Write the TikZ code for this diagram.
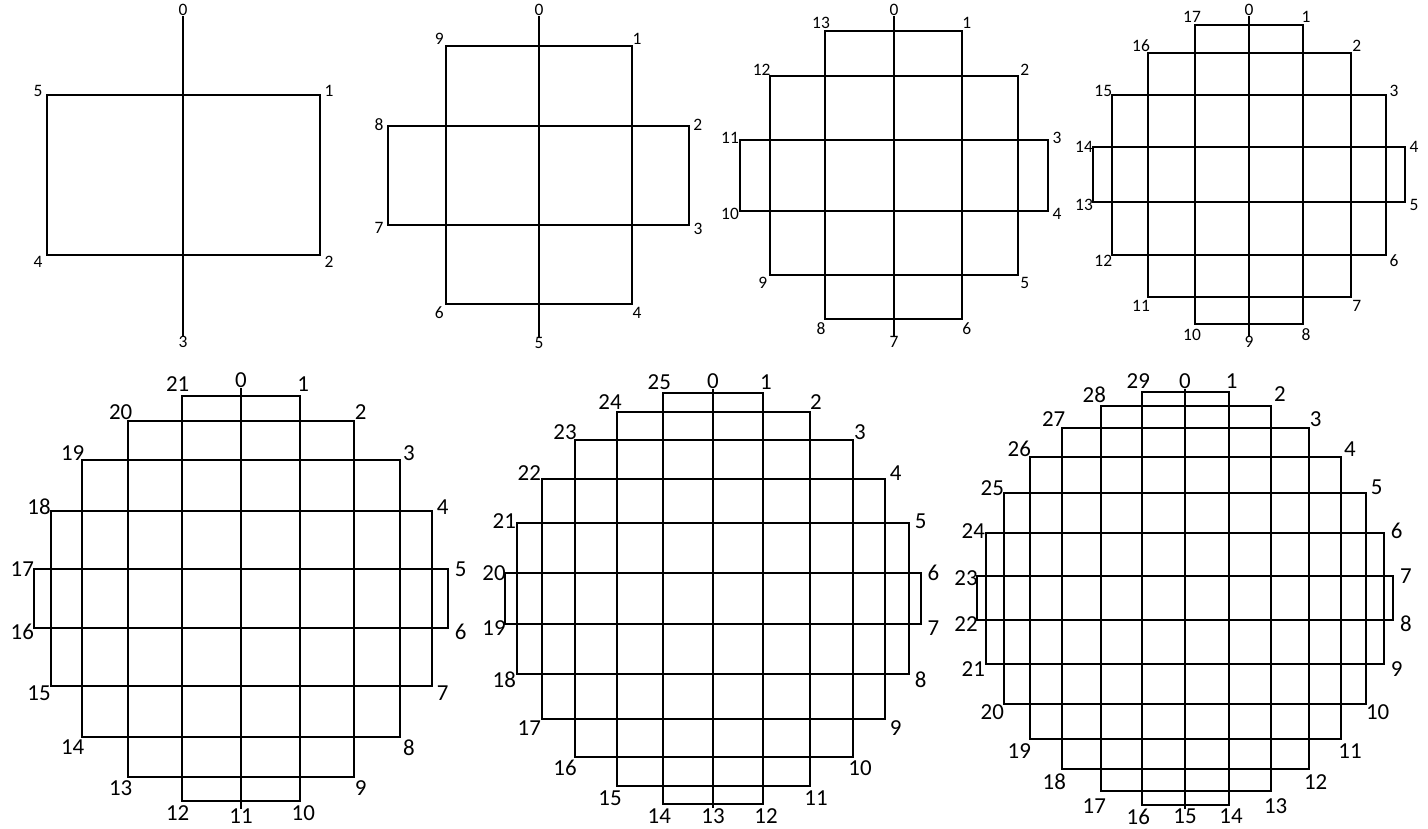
\documentclass[tikz,border=0pt]{standalone}
\usepackage{fontspec}
\setmainfont{Carlito}
\begin{document}
\begin{tikzpicture}[x=1bp,y=-1bp,
  lbl/.style={inner sep=0.3bp,font=\fontsize{17.5}{17.5}\selectfont},
  lblb/.style={inner sep=0.3bp,font=\fontsize{23}{23}\selectfont},
  ln/.style={line width=1.5bp,black}]
\useasboundingbox (0,0) rectangle (1428,828);
% ---------- diagram 1
\draw[ln] (47,95) rectangle (320,255);
\foreach \n/\x/\y in {0/183/10,1/329/91,2/329/262,3/183/342,4/38/262,5/38/91}
  \node[lbl] (a\n) at (\x,\y) {\n};
\draw[ln] (a0) -- (a3);
% ---------- diagram 2
\draw[ln] (446,46) rectangle (632,304);
\draw[ln] (388,126) rectangle (689,225);
\foreach \n/\x/\y in {0/539/10,1/637/39,2/697.7/125,3/698/229,4/637/313,5/539/343,6/439.3/313,7/379/228,8/379/125,9/439.3/39}
  \node[lbl] (b\n) at (\x,\y) {\n};
\draw[ln] (b0) -- (b5);
% ---------- diagram 3
\draw[ln] (825,31) rectangle (962,319);
\draw[ln] (770,76) rectangle (1018,275);
\draw[ln] (740,140) rectangle (1048,211);
\foreach \n/\x/\y in {0/894/10,1/966.7/23,2/1024.7/70,3/1057/138,4/1057/214,5/1024.7/283,6/966.7/329,7/894/341.7,8/821/329,9/762.7/283,10/730/214,11/730/137.7,12/761.7/70,13/821/23}
  \node[lbl] (c\n) at (\x,\y) {\n};
\draw[ln] (c0) -- (c7);
% ---------- diagram 4
\draw[ln] (1195,25) rectangle (1303,324);
\draw[ln] (1148,53) rectangle (1351,297);
\draw[ln] (1112,95) rectangle (1386,255);
\draw[ln] (1093,147) rectangle (1405,202);
\foreach \n/\x/\y in {0/1249/10,1/1306/17,2/1356.7/46,3/1394/91,4/1414/147,5/1414/205,6/1394/261,7/1356.7/306,8/1306/335,9/1249/341.7,10/1192/335,11/1141/305.7,12/1103.3/261,13/1084/205,14/1084/146.7,15/1103.3/90.7,16/1141/46,17/1192/16.7}
  \node[lbl] (d\n) at (\x,\y) {\n};
\draw[ln] (d0) -- (d9);
% ---------- diagram 5
\draw[ln] (182,396) rectangle (300,801);
\draw[ln] (128,421) rectangle (354,777);
\draw[ln] (82,460) rectangle (400,737);
\draw[ln] (51,511) rectangle (432,686);
\draw[ln] (34,569) rectangle (448,628);
\foreach \n/\x/\y in {0/241/380,1/303.3/384,2/360.7/411.7,3/409/452.7,4/442.7/506.7,5/460.7/569,6/460.7/631.7,7/442.7/693.3,8/409/747.3,9/360.7/788.3,10/303.3/813.5,11/241/816.5,12/177.7/813.5,13/120.7/788.3,14/72.7/747.3,15/39/693.3,16/22.3/631.7,17/22.3/569,18/39/506.7,19/72.7/452.7,20/120.7/411.7,21/177.7/384}
  \node[lblb] (e\n) at (\x,\y) {\n};
\draw[ln] (e0) -- (e11);
% ---------- diagram 6
\draw[ln] (663,393) rectangle (763,804);
\draw[ln] (617,412) rectangle (810,786);
\draw[ln] (575,440) rectangle (853,757);
\draw[ln] (542,479) rectangle (885,719);
\draw[ln] (517,523) rectangle (909,674);
\draw[ln] (505,573) rectangle (921,624);
\foreach \n/\x/\y in {0/713/380.7,1/766/382.3,2/816/401.7,3/860/431.7,4/895.7/473.3,5/920.7/521,6/933.3/572.7,7/933.3/627.7,8/920.7/679.3,9/895.7/727.7,10/860/768.3,11/816/798.3,12/766/816.5,13/713/816.5,14/659.3/816.5,15/610/798.3,16/565/768.3,17/529.3/727.7,18/504.3/679.3,19/494/627.7,20/494/572.7,21/504.3/521,22/529.3/473.3,23/565/431.7,24/610/401.7,25/659.3/382.3}
  \node[lblb] (f\n) at (\x,\y) {\n};
\draw[ln] (f0) -- (f13);
% ---------- diagram 7
\draw[ln] (1142,392) rectangle (1229,805);
\draw[ln] (1101,406) rectangle (1271,791);
\draw[ln] (1062,428) rectangle (1309,769);
\draw[ln] (1030,457) rectangle (1341,739);
\draw[ln] (1004,493) rectangle (1366,704);
\draw[ln] (986,533) rectangle (1384,664);
\draw[ln] (977,576) rectangle (1393,620);
\foreach \n/\x/\y in {0/1185/380.7,1/1231.7/380.7,2/1280/394.3,3/1315.7/419,4/1350/449.3,5/1376.7/487.7,6/1396.7/530.7,7/1406/576,8/1406/623.3,9/1396.7/669.3,10/1377.7/712.3,11/1350/750.7,12/1315.7/781.7,13/1275.7/805.7,14/1231/816.5,15/1185/816.5,16/1138.3/816.5,17/1094.3/805.7,18/1054.3/781.7,19/1019.3/750.7,20/992.3/712.3,21/973.3/669.3,22/966/624.3,23/966/577.7,24/973.3/530.7,25/992.3/487.7,26/1019.3/449.3,27/1053.7/419,28/1094.3/394.3,29/1138.3/380.7}
  \node[lblb] (g\n) at (\x,\y) {\n};
\draw[ln] (g0) -- (g15);
\end{tikzpicture}
\end{document}
